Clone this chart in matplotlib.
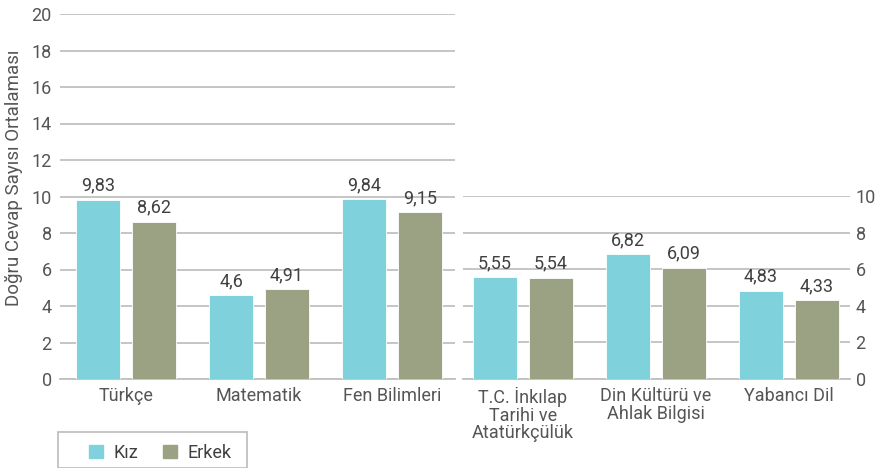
import matplotlib.pyplot as plt
import numpy as np
from matplotlib.patches import Patch, Rectangle

plt.rcParams['font.family'] = ['Roboto', 'DejaVu Sans']

# sol panel (0-20 ölçeği)
ders_sol = ['Türkçe', 'Matematik', 'Fen Bilimleri']
kiz_sol = [9.83, 4.6, 9.84]
erkek_sol = [8.62, 4.91, 9.15]

# sağ panel (0-10 ölçeği)
ders_sag = ['T.C. İnkılap\nTarihi ve\nAtatürkçülük', 'Din Kültürü ve\nAhlak Bilgisi', 'Yabancı Dil']
kiz_sag = [5.55, 6.82, 4.83]
erkek_sag = [5.54, 6.09, 4.33]

renk_kiz = '#7FD1DC'
renk_erkek = '#9AA283'
grid_renk = '#C0C0C0'
yazi_renk = '#555555'
fs = 13

W, H = 876, 468
fig = plt.figure(figsize=(W / 100, H / 100), dpi=100)

def ax_kur(x0, x1, y0, y1):
    return fig.add_axes([x0 / W, 1 - y1 / H, (x1 - x0) / W, (y1 - y0) / H])

ax1 = ax_kur(60, 455, 14, 379)
ax2 = ax_kur(463, 850, 196, 379)

def ciz(ax, dersler, kiz, erkek, ymax, xlim, sag=False):
    x = np.arange(len(dersler))
    w = 0.33
    b1 = ax.bar(x - 0.21, kiz, w, color=renk_kiz, edgecolor='white', linewidth=0.6, zorder=3)
    b2 = ax.bar(x + 0.21, erkek, w, color=renk_erkek, edgecolor='white', linewidth=0.6, zorder=3)
    for bars, vals in ((b1, kiz), (b2, erkek)):
        for r, v in zip(bars, vals):
            ax.annotate(f'{v:g}'.replace('.', ','), (r.get_x() + r.get_width() / 2, v),
                        xytext=(0, 3.5), textcoords='offset points', ha='center', va='bottom',
                        fontsize=fs, color='#404040')
    ax.set_ylim(0, ymax)
    ax.set_xlim(*xlim)
    ax.set_yticks(np.arange(0, ymax + 1, 2))
    ax.set_xticks(x)
    ax.set_xticklabels(dersler, fontsize=fs, color=yazi_renk, linespacing=0.95)
    ax.yaxis.grid(True, color=grid_renk, linewidth=1.3, zorder=0)
    ax.set_axisbelow(True)
    for s in ('top', 'left', 'right'):
        ax.spines[s].set_visible(False)
    ax.spines['bottom'].set_color(grid_renk)
    ax.spines['bottom'].set_linewidth(1.3)
    ax.tick_params(axis='both', length=0, colors=yazi_renk, labelsize=fs)
    ax.tick_params(axis='x', pad=6)
    ax.tick_params(axis='y', pad=6)
    if sag:
        ax.yaxis.tick_right()
        ax.tick_params(axis='y', pad=4)

ciz(ax1, ders_sol, kiz_sol, erkek_sol, 20, (-0.496, 2.474))
ciz(ax2, ders_sag, kiz_sag, erkek_sag, 10, (-0.451, 2.459), sag=True)

fig.text(14 / W, 1 - 178 / H, 'Doğru Cevap Sayısı Ortalaması', rotation=90,
         ha='center', va='center', fontsize=fs + 0.5, color=yazi_renk)

# lejant çerçevesi
fig.add_artist(Rectangle((58 / W, 0), 189 / W, 1 - 432 / H, transform=fig.transFigure,
                         facecolor='none', edgecolor='#BBBBBB', linewidth=1.2))
leg = fig.legend(handles=[Patch(color=renk_kiz, label='Kız'), Patch(color=renk_erkek, label='Erkek')],
                 loc='center left', bbox_to_anchor=(89 / W, 1 - 453 / H),
                 ncol=2, frameon=False, fontsize=fs, handlelength=0.75,
                 handleheight=0.75, handletextpad=0.6, columnspacing=1.4, borderaxespad=0,
                 borderpad=0)
for t in leg.get_texts():
    t.set_color('#404040')

fig.savefig('out.png', dpi=100)
